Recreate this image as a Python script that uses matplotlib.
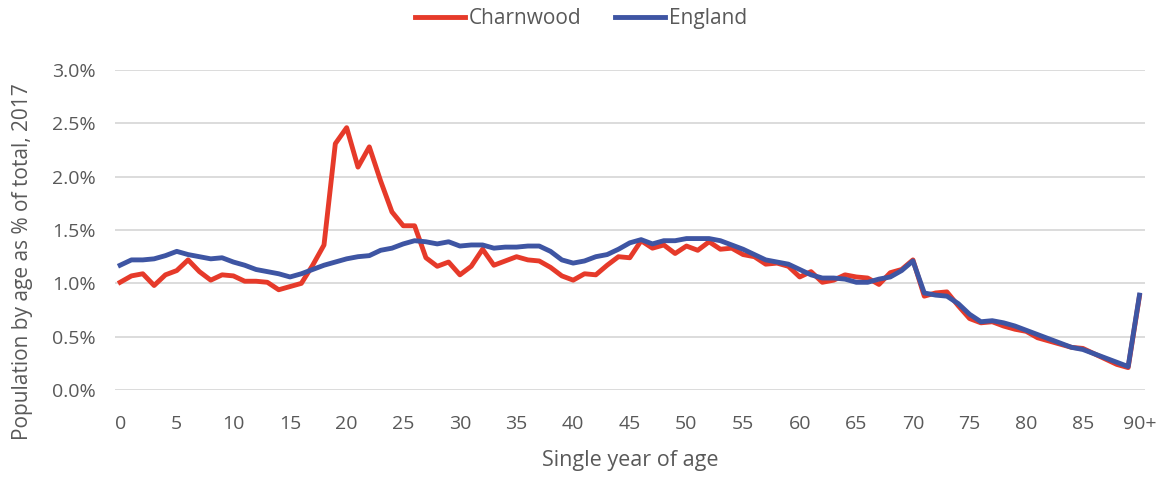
import matplotlib
matplotlib.use("Agg")
import matplotlib.pyplot as plt
from matplotlib.ticker import FuncFormatter

plt.rcParams['font.family'] = ['Open Sans', 'DejaVu Sans']

# ages 0..89 plus "90+"
ages = list(range(91))
tick_ages = list(range(0, 91, 5))
tick_labels = [str(a) for a in range(0, 90, 5)] + ['90+']

# population by single year of age as % of total, 2017
charnwood = [
    1.01, 1.07, 1.09, 0.98, 1.08, 1.12, 1.22, 1.11, 1.03, 1.08,
    1.07, 1.02, 1.02, 1.01, 0.94, 0.97, 1.00, 1.17, 1.36, 2.31,
    2.46, 2.09, 2.28, 1.96, 1.67, 1.54, 1.54, 1.24, 1.16, 1.20,
    1.08, 1.16, 1.32, 1.17, 1.21, 1.25, 1.22, 1.21, 1.15, 1.07,
    1.03, 1.09, 1.08, 1.17, 1.25, 1.24, 1.40, 1.33, 1.36, 1.28,
    1.35, 1.31, 1.39, 1.32, 1.33, 1.27, 1.25, 1.18, 1.19, 1.16,
    1.06, 1.11, 1.01, 1.03, 1.08, 1.06, 1.05, 0.99, 1.10, 1.13,
    1.22, 0.88, 0.91, 0.92, 0.79, 0.67, 0.63, 0.64, 0.60, 0.57,
    0.55, 0.49, 0.46, 0.43, 0.40, 0.39, 0.34, 0.29, 0.24, 0.21,
    0.88,
]
england = [
    1.17, 1.22, 1.22, 1.23, 1.26, 1.30, 1.27, 1.25, 1.23, 1.24,
    1.20, 1.17, 1.13, 1.11, 1.09, 1.06, 1.09, 1.13, 1.17, 1.20,
    1.23, 1.25, 1.26, 1.31, 1.33, 1.37, 1.40, 1.39, 1.37, 1.39,
    1.35, 1.36, 1.36, 1.33, 1.34, 1.34, 1.35, 1.35, 1.30, 1.22,
    1.19, 1.21, 1.25, 1.27, 1.32, 1.38, 1.41, 1.37, 1.40, 1.40,
    1.42, 1.42, 1.42, 1.40, 1.36, 1.32, 1.27, 1.22, 1.20, 1.18,
    1.13, 1.08, 1.05, 1.05, 1.04, 1.01, 1.01, 1.04, 1.06, 1.12,
    1.21, 0.91, 0.89, 0.88, 0.81, 0.71, 0.64, 0.65, 0.63, 0.60,
    0.56, 0.52, 0.48, 0.44, 0.40, 0.38, 0.34, 0.30, 0.26, 0.22,
    0.89,
]

red = '#E63A2A'
blue = '#3E55A3'
text_col = '#595959'

fig = plt.figure(figsize=(11.62, 4.8), dpi=100)
ax = fig.add_axes([0.099, 0.1875, 0.886, 0.6665])

ax.plot(ages, charnwood, color=red, lw=3.5, label='Charnwood', solid_joinstyle='round')
ax.plot(ages, england, color=blue, lw=3.5, label='England', solid_joinstyle='round')

ax.set_xlim(-0.45, 90.45)
ax.set_ylim(0, 3.0)
ax.set_yticks([0, 0.5, 1.0, 1.5, 2.0, 2.5, 3.0])
ax.yaxis.set_major_formatter(FuncFormatter(lambda v, p: f'{v:.1f}%'))
ax.set_xticks(tick_ages)
ax.set_xticklabels(tick_labels)

ax.grid(axis='y', color='#D9D9D9', lw=1.3)
ax.set_axisbelow(True)
for s in ax.spines.values():
    s.set_visible(False)
ax.tick_params(length=0, labelsize=14, colors=text_col)
ax.tick_params(axis='x', pad=18)
ax.tick_params(axis='y', pad=14)

ax.set_xlabel('Single year of age', fontsize=15.5, color=text_col, labelpad=12)
ax.set_ylabel('Population by age as % of total, 2017', fontsize=15, color=text_col)
ax.yaxis.set_label_coords(-0.08, 0.40)

fig.legend(loc='upper center', bbox_to_anchor=(0.5, 1.022), ncol=2, frameon=False,
           fontsize=15, handlelength=2.4, columnspacing=1.6, handletextpad=0.2,
           labelcolor=text_col)

fig.savefig('out.png', dpi=100)
